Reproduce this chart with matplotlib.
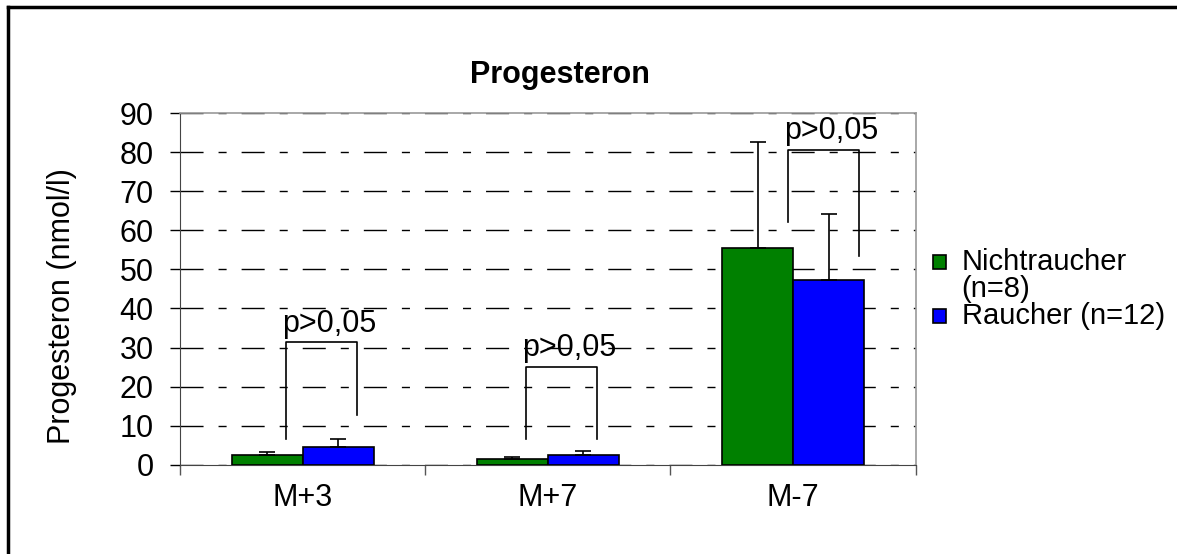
import matplotlib.pyplot as plt
import numpy as np
from matplotlib.patches import Rectangle
from matplotlib.lines import Line2D

plt.rcParams['font.family'] = ['Liberation Sans', 'DejaVu Sans']

# Daten
kategorien = ['M+3', 'M+7', 'M-7']
nichtraucher = [2.5, 1.5, 55.4]
nichtraucher_sd = [0.7, 0.6, 27.2]
raucher = [4.6, 2.5, 47.2]
raucher_sd = [2.1, 1.1, 16.9]
gruppen = ['Nichtraucher', '(n=8)', 'Raucher (n=12)']

# Signifikanzklammern: links x, rechts x, oben, unten links, unten rechts
klammer_x = [(-0.07, 0.22), (-0.09, 0.2), (-0.02, 0.27)]
klammer_y = [(31.3, 6.7, 12.8), (25.1, 6.7, 6.7), (80.5, 62.0, 53.3)]
p_text = ['p>0,05', 'p>0,05', 'p>0,05']

gruen = '#008000'
blau = '#0000ff'
fs = 22

fig = plt.figure(figsize=(11.77, 5.54), dpi=100)
ax = fig.add_axes([0.153, 0.161, 0.625, 0.635])

x = np.arange(len(kategorien))
b = 0.289
ax.bar(x - b / 2, nichtraucher, b, color=gruen, edgecolor='black', linewidth=1.2, zorder=3)
ax.bar(x + b / 2, raucher, b, color=blau, edgecolor='black', linewidth=1.2, zorder=3)
# nur obere Fehlerbalken
ax.errorbar(x - b / 2, nichtraucher, yerr=[np.zeros(3), nichtraucher_sd], fmt='none',
            ecolor='black', elinewidth=1.2, capsize=5.5, capthick=1.2, zorder=4)
ax.errorbar(x + b / 2, raucher, yerr=[np.zeros(3), raucher_sd], fmt='none',
            ecolor='black', elinewidth=1.2, capsize=5.5, capthick=1.2, zorder=4)

for i in range(len(kategorien)):
    xl, xr = klammer_x[i]
    top, yl, yr = klammer_y[i]
    ax.plot([x[i] + xl, x[i] + xl, x[i] + xr, x[i] + xr], [yl, top, top, yr],
            color='black', lw=1.2, zorder=5)
    ax.text(x[i] + xl - 0.015, top + 1.0, p_text[i], ha='left', va='bottom',
            fontsize=fs, zorder=6)

ax.set_xlim(-0.5, 2.5)
ax.set_ylim(0, 90)
ax.set_yticks(np.arange(0, 91, 10))
ax.set_xticks(x)
ax.set_xticklabels(kategorien)
ax.set_xticks([-0.5, 0.5, 1.5, 2.5], minor=True)
ax.tick_params(axis='x', which='major', length=0, pad=13, labelsize=fs)
ax.tick_params(axis='x', which='minor', length=7, width=1, color='#555555')
ax.tick_params(axis='y', length=7, width=1, labelsize=fs, pad=12)

ax.yaxis.grid(True, linestyle=(0, (16.6, 10.8, 5.8, 10.8)), color='black', linewidth=1)
ax.set_axisbelow(True)
for s in ['top', 'right']:
    ax.spines[s].set_color('#999999')
    ax.spines[s].set_linewidth(1.2)
ax.spines['left'].set_color('#444444')
ax.spines['bottom'].set_color('#444444')

fig.text(0.0527, 0.448, 'Progesteron (nmol/l)', rotation=90, ha='center', va='center', fontsize=fs)
fig.text(0.476, 0.865, 'Progesteron', ha='center', va='center', fontsize=fs, fontweight='bold')

# Legende
for farbe, yy in [(gruen, 1 - 262 / 554), (blau, 1 - 316 / 554)]:
    fig.patches.append(Rectangle((0.793, yy - 0.012), 0.011, 0.024, transform=fig.transFigure,
                                 facecolor=farbe, edgecolor='black', linewidth=1.2))
for label, yy in zip(gruppen, [262, 289, 316]):
    fig.text(0.817, 1 - yy / 554, label, ha='left', va='center', fontsize=21)

# Rahmen oben und links
fig.add_artist(Line2D([0.007, 1], [0.987, 0.987], transform=fig.transFigure, color='black', lw=2.5))
fig.add_artist(Line2D([0.007, 0.007], [0, 0.987], transform=fig.transFigure, color='black', lw=2.5))

fig.savefig('out.png', dpi=100)
